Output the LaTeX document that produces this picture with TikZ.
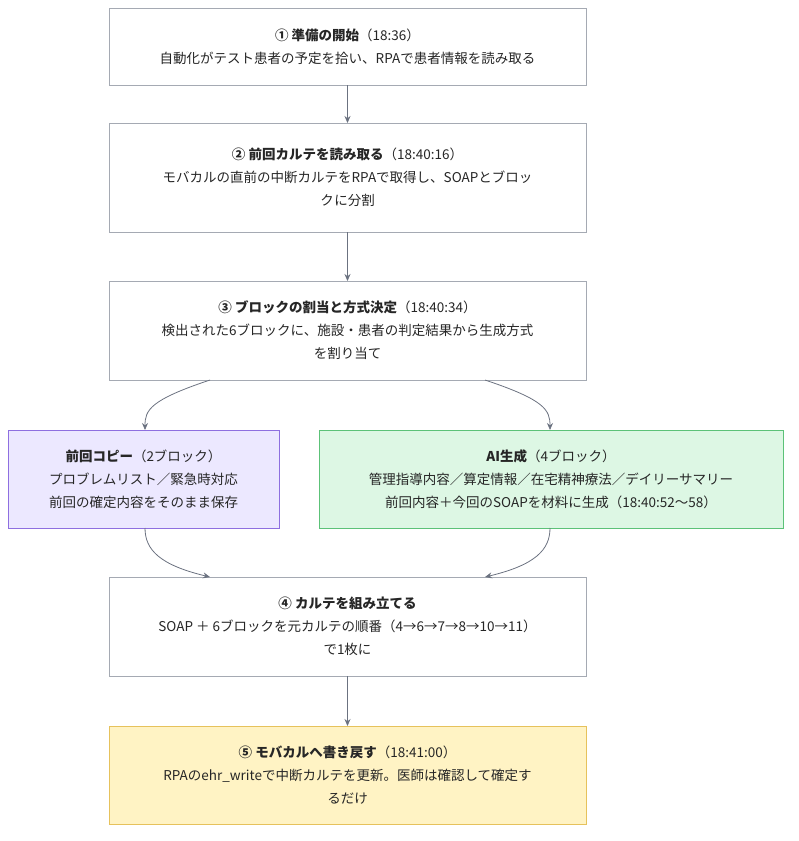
\documentclass[tikz,border=0pt]{standalone}
\usepackage{fontspec}
\setmainfont{Noto Sans CJK JP}
\usetikzlibrary{arrows.meta}
\definecolor{bd}{HTML}{A5AAB3}
\definecolor{ar}{HTML}{6B7280}
\definecolor{pf}{HTML}{ECE8FF}\definecolor{pb}{HTML}{8E6FE0}
\definecolor{gf}{HTML}{DDF7E4}\definecolor{gb}{HTML}{5CC278}
\definecolor{yf}{HTML}{FFF3C4}\definecolor{yb}{HTML}{E6C25C}
\begin{document}
\begin{tikzpicture}[x=1pt,y=-1pt,
  box/.style={draw=bd,line width=0.8pt,fill=white},
  txt/.style={align=center,font=\fontsize{13.5}{23}\selectfont,text=black!85},
  arr/.style={draw=ar,line width=0.8pt,-{Stealth[length=7pt,width=6pt]}}]
\useasboundingbox (0,0) rectangle (799,841);
\draw[box] (109,8) rectangle (586,85);
\node[txt] (n1) at (347.5,46.5) {\textbf{① 準備の開始}（18:36）\\自動化がテスト患者の予定を拾い、RPAで患者情報を読み取る};
\draw[box] (109,123) rectangle (586,232);
\node[txt] (n2) at (347.5,177.5) {\textbf{② 前回カルテを読み取る}（18:40:16）\\モバカルの直前の中断カルテをRPAで取得し、SOAPとブロッ\\ク\hspace{0.5pt}に分割};
\draw[box] (109,281) rectangle (586,380);
\node[txt] (n3) at (347.5,330.5) {\textbf{③ ブロックの割当と方式決定}（18:40:34）\\検出された6ブロックに、施設・患者の判定結果から生成方式\\を割り当て};
\draw[box,fill=pf,draw=pb] (8,430) rectangle (279,528);
\node[txt] (l) at (143.5,479) {\textbf{前回コピー}（2ブロック）\\プロブレムリスト／緊急時対応\\前回の確定内容をそのまま保存};
\draw[box,fill=gf,draw=gb] (319,430) rectangle (783,528);
\node[txt] (r) at (551,479) {\textbf{AI生成}（4ブロック）\\管理指導内容／算定情報／在宅精神療法／デイリーサマリー\\前回内容＋今回のSOAPを材料に生成（18:40:52〜58）};
\draw[box] (109,577) rectangle (586,676);
\node[txt] (n4) at (347.5,626.5) {\textbf{④ カルテを組み立てる}\\SOAP ＋ 6ブロックを元カルテの順番（4→6→7→8→10→11）\\で1枚に};
\draw[box,fill=yf,draw=yb] (109,726) rectangle (586,824);
\node[txt] (n5) at (347.5,775) {\textbf{⑤ モバカルへ書き戻す}（18:41:00）\\RPAのehr\_writeで中断カルテを更新。医師は確認して確定す\\るだけ};
\coordinate (a1) at (347.5,85);\coordinate (b1) at (347.5,123);
\coordinate (a2) at (347.5,232);\coordinate (b2) at (347.5,281);
\coordinate (a3) at (347.5,676);\coordinate (b3) at (347.5,726);
\draw[arr] (a1)--(b1);\draw[arr] (a2)--(b2);\draw[arr] (a3)--(b3);
\coordinate (c1) at (210,380);\coordinate (d1) at (145,430);
\coordinate (c2) at (485,380);\coordinate (d2) at (550,430);
\draw[arr] (c1) .. controls (150,400) and (145,410) .. (d1);
\draw[arr] (c2) .. controls (545,400) and (550,410) .. (d2);
\coordinate (e1) at (145,528);\coordinate (f1) at (210,577);
\coordinate (e2) at (550,528);\coordinate (f2) at (485,577);
\draw[arr] (e1) .. controls (145,550) and (160,565) .. (f1);
\draw[arr] (e2) .. controls (550,550) and (535,565) .. (f2);
\end{tikzpicture}
\end{document}
